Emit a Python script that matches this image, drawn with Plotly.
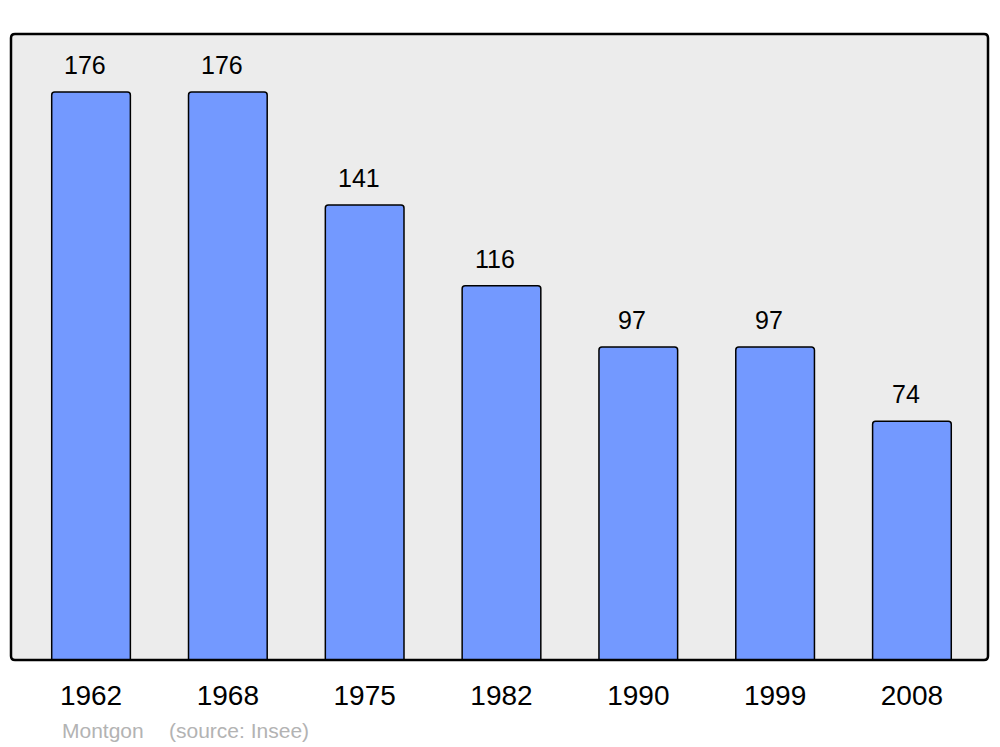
import plotly.graph_objects as go

years = ["1962", "1968", "1975", "1982", "1990", "1999", "2008"]
population = [176, 176, 141, 116, 97, 97, 74]
commune = "Montgon"
source = "(source: Insee)"

W, H = 1000, 747
L, R, T, B = 11, 12, 34, 87
pw, ph = W - L - R, H - T - B
FONT = "Liberation Sans, Arial"

fig = go.Figure()
fig.add_trace(go.Bar(
    x=list(range(len(years))), y=population, width=0.575,
    marker=dict(color="#7399ff", line=dict(color="black", width=1.5), cornerradius=3),
    hoverinfo="skip",
))

for i, v in enumerate(population):
    fig.add_annotation(x=i, y=v, text=str(v), showarrow=False, yanchor="bottom",
                       yshift=11, xshift=-6,
                       font=dict(family=FONT, size=25, color="black"))

# rounded border
rx, ry = 4 / pw, 4 / ph
path = (f"M {rx},0 L {1-rx},0 Q 1,0 1,{ry} L 1,{1-ry} Q 1,1 {1-rx},1 "
        f"L {rx},1 Q 0,1 0,{1-ry} L 0,{ry} Q 0,0 {rx},0 Z")
fig.add_shape(type="path", xref="paper", yref="paper", path=path,
              line=dict(color="black", width=2.5), layer="above")

fig.add_annotation(xref="paper", yref="paper", x=(60 - L) / pw, y=-(730 - 660) / ph,
                   xanchor="left", yanchor="middle", showarrow=False, text=commune,
                   font=dict(family=FONT, size=21, color="#b3b3b3"))
fig.add_annotation(xref="paper", yref="paper", x=(167 - L) / pw, y=-(730 - 660) / ph,
                   xanchor="left", yanchor="middle", showarrow=False, text=source,
                   font=dict(family=FONT, size=21, color="#b3b3b3"))

fig.update_layout(
    width=W, height=H, margin=dict(l=L, r=R, t=T, b=B),
    paper_bgcolor="white", plot_bgcolor="#ececec", showlegend=False,
    xaxis=dict(range=[-0.585, 6.556], tickmode="array", tickvals=list(range(len(years))),
               ticktext=years, showgrid=False, zeroline=False, ticks="",
               ticklabelstandoff=16,
               tickfont=dict(family=FONT, size=28, color="black")),
    yaxis=dict(range=[0, 194], showgrid=False, zeroline=False, showticklabels=False, ticks=""),
)
fig.write_html("out.html", config={"displayModeBar": False},
               post_script="document.body.style.margin='0';document.body.style.overflow='hidden';")
